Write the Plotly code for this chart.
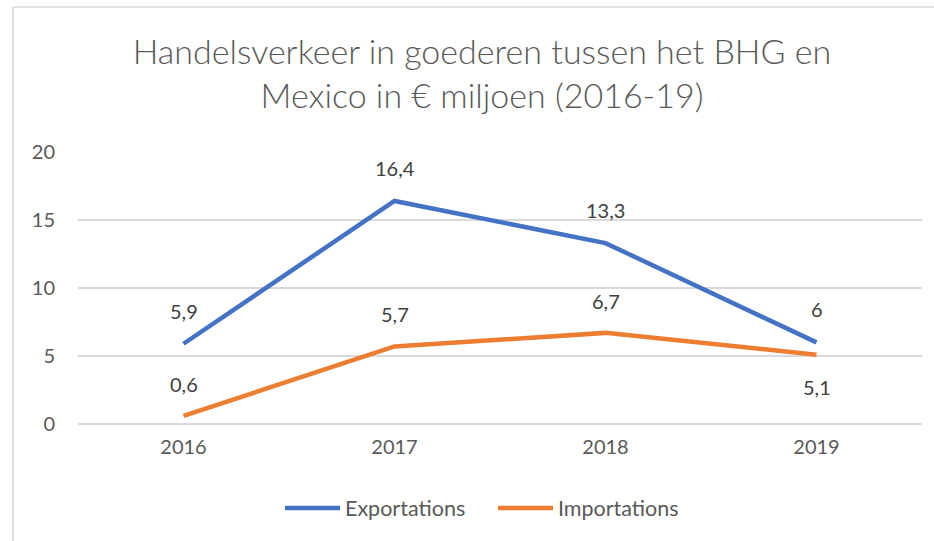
import plotly.graph_objects as go

years = ["2016", "2017", "2018", "2019"]
exportations = [5.9, 16.4, 13.3, 6]
importations = [0.6, 5.7, 6.7, 5.1]
exp_labels = ["5,9", "16,4", "13,3", "6"]
imp_labels = ["0,6", "5,7", "6,7", "5,1"]
imp_label_pos = [1, 1, 1, -1]  # 1 above, -1 below
yticks = [0, 5, 10, 15, 20]

W, H = 934, 541
ML, MR, MT, MB = 78, 12, 152, 117

FONT = "Lato, 'Open Sans', sans-serif"
GREY = "#595959"

fig = go.Figure()
fig.add_trace(go.Scatter(x=years, y=exportations, mode="lines", name="Exportations",
                         line=dict(color="#4472C4", width=4.5)))
fig.add_trace(go.Scatter(x=years, y=importations, mode="lines", name="Importations",
                         line=dict(color="#ED7D31", width=4.5)))

annotations = []
for i, (y, t) in enumerate(zip(exportations, exp_labels)):
    annotations.append(dict(x=i, y=y, xref="x", yref="y", text=t, showarrow=False, yshift=33,
                            font=dict(size=20, color="#404040", family=FONT)))
for i, (y, t, p) in enumerate(zip(importations, imp_labels, imp_label_pos)):
    annotations.append(dict(x=i, y=y, xref="x", yref="y", text=t, showarrow=False, yshift=32 * p,
                            font=dict(size=20, color="#404040", family=FONT)))

def px_x(px):
    return (px - ML) / (W - ML - MR)

def px_y(py):
    return (H - MB - py) / (H - MT - MB)

fig.update_layout(
    width=W, height=H,
    margin=dict(l=ML, r=MR, t=MT, b=MB),
    paper_bgcolor="white", plot_bgcolor="white",
    title=dict(text="Handelsverkeer in goederen tussen het BHG en<br>Mexico in € miljoen (2016-19)",
               x=482 / W, xanchor="center", y=1 - 64 / H, yanchor="middle",
               font=dict(size=34, color=GREY, family=FONT, weight=300)),
    xaxis=dict(type="category", range=[-0.5, 3.5], showgrid=False, showline=False,
               ticks="", tickfont=dict(size=20, color=GREY, family=FONT), ticklabelstandoff=9),
    yaxis=dict(range=[0, 20], tickvals=yticks, showgrid=True, gridcolor="#D9D9D9", gridwidth=1.5,
               zeroline=True, zerolinecolor="#D9D9D9", zerolinewidth=1.5, showline=False,
               tickfont=dict(size=20, color=GREY, family=FONT), ticklabelstandoff=22),
    legend=dict(orientation="h", x=px_x(280), xanchor="left", xref="paper",
                y=px_y(508), yanchor="middle",
                font=dict(size=21.5, color=GREY, family=FONT), itemwidth=55,
                entrywidth=143, entrywidthmode="pixels",
                traceorder="normal"),
    showlegend=True,
    annotations=annotations,
    shapes=[
        dict(type="line", xref="paper", yref="paper", x0=px_x(13), x1=px_x(W + 5),
             y0=px_y(7), y1=px_y(7), line=dict(color="#D9D9D9", width=1.5)),
        dict(type="line", xref="paper", yref="paper", x0=px_x(13), x1=px_x(13),
             y0=px_y(7), y1=px_y(H + 5), line=dict(color="#D9D9D9", width=1.5)),
    ],
)

fig.write_html("out.html", config={"displayModeBar": False},
               post_script="document.body.style.margin='0';")
